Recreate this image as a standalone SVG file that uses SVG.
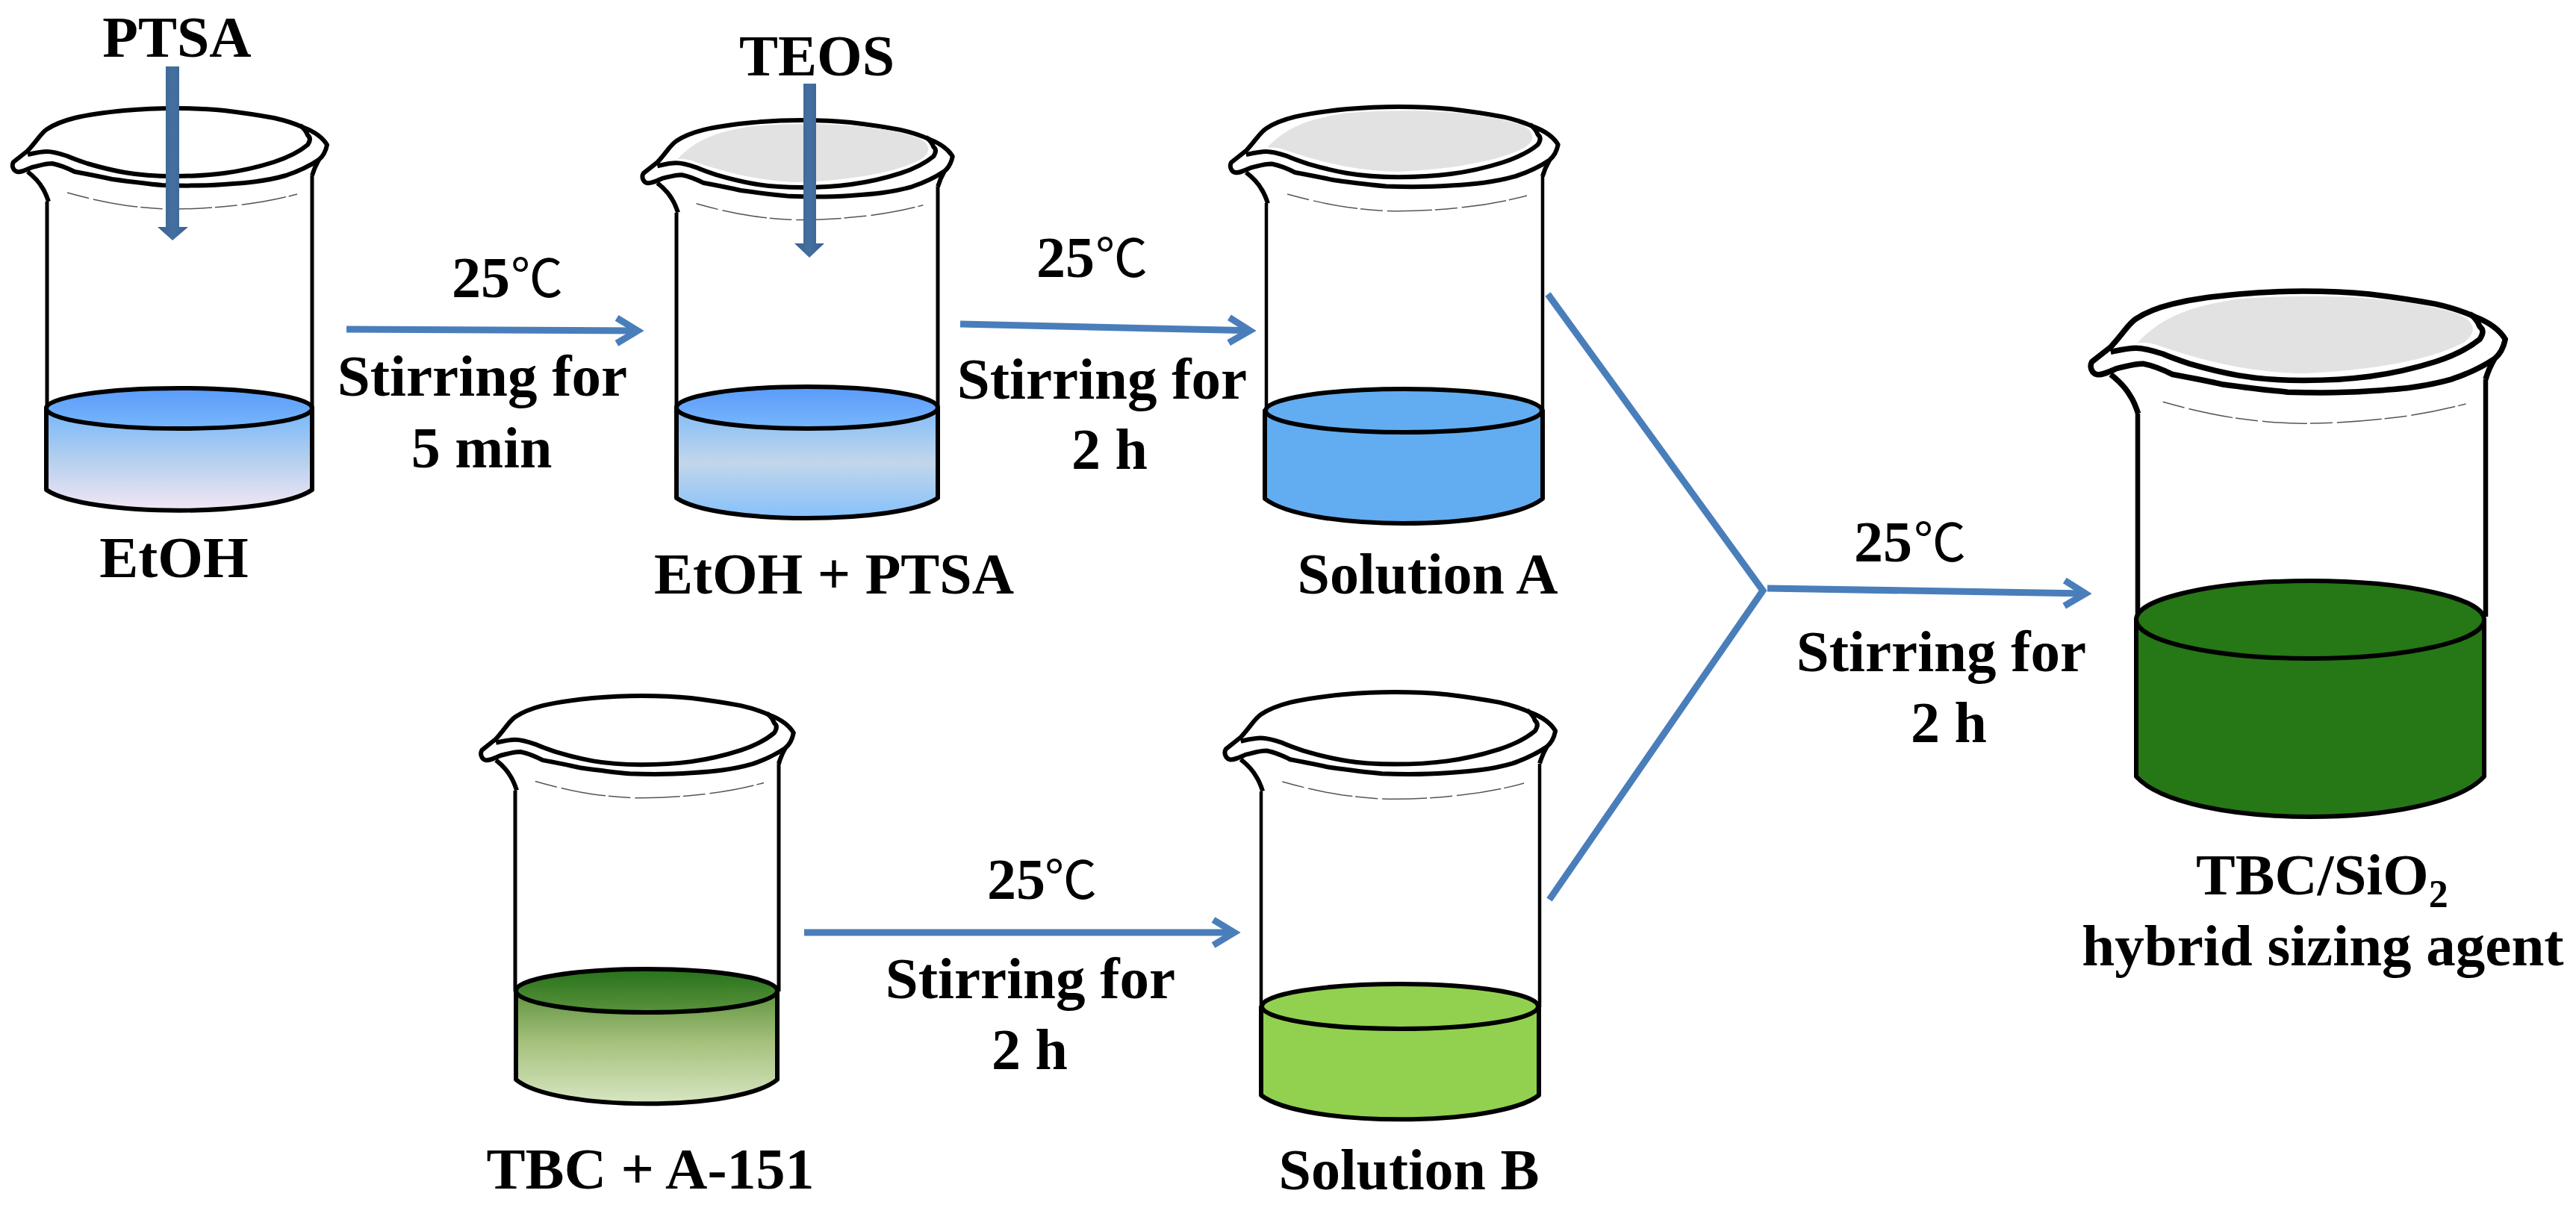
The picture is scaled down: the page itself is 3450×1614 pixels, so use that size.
<svg xmlns="http://www.w3.org/2000/svg" width="3450" height="1614" viewBox="0 0 3450 1614">
<style>
text{font-family:"Liberation Serif","Times New Roman",serif;font-weight:700;font-size:78px;fill:#000}
.c{text-anchor:middle}
.s{font-size:79px}
.deg{font-family:"Noto Sans CJK SC",sans-serif;font-weight:400;font-size:70px}
.ln{fill:none;stroke:#000;stroke-width:5;stroke-linejoin:round}
.liq{stroke:#000;stroke-width:6;stroke-linejoin:round}
.fr{fill:none;stroke:#000;stroke-linejoin:round;vector-effect:non-scaling-stroke}
.thin{fill:none;stroke:#555;stroke-width:1.5;stroke-dasharray:30 6 60 4;vector-effect:non-scaling-stroke}
.rim{fill:#fff}
.grey{fill:#e2e2e2;stroke:none}
.flow{fill:none;stroke:#4a7ebb;stroke-width:9}
use{stroke-width:6}
</style>
<defs>
<marker id="head" markerUnits="userSpaceOnUse" markerWidth="60" markerHeight="60" refX="45" refY="30" orient="auto"><path d="M17,13 L45,30 L17,47" fill="none" stroke="#4a7ebb" stroke-width="9"/></marker>
<linearGradient id="feed" x1="0" x2="1" y1="0" y2="0"><stop offset="0" stop-color="#3a6090"/><stop offset=".5" stop-color="#44709f"/><stop offset="1" stop-color="#3a6090"/></linearGradient>
<linearGradient id="t1" x1="0" x2="0" y1="0" y2="1"><stop offset="0" stop-color="#5a9bfb"/><stop offset="1" stop-color="#78b6fb"/></linearGradient>
<linearGradient id="b1" x1="0" x2="0" y1="0" y2="1"><stop offset="0" stop-color="#74b6fb"/><stop offset=".5" stop-color="#b3cfee"/><stop offset="1" stop-color="#f3e7f4"/></linearGradient>
<linearGradient id="b2" x1="0" x2="0" y1="0" y2="1"><stop offset="0" stop-color="#80bcf8"/><stop offset=".5" stop-color="#c2d6ea"/><stop offset="1" stop-color="#85c0fb"/></linearGradient>
<linearGradient id="t4" x1="0" x2="0" y1="0" y2="1"><stop offset="0" stop-color="#27731b"/><stop offset="1" stop-color="#5a923c"/></linearGradient>
<linearGradient id="b4" x1="0" x2="0" y1="0" y2="1"><stop offset="0" stop-color="#5f9440"/><stop offset=".45" stop-color="#a5c07b"/><stop offset="1" stop-color="#d8e6c3"/></linearGradient>
<path id="grey-a" class="grey" d="M64,198 C90,170 120,160 167,153 C260,146 340,152 390,168 C408,176 410,188 395,198 C360,216 300,226 233,229 C170,228 120,212 90,202 C80,198 72,197 64,198 Z"/>
<g id="frame">
<path class="fr rim" d="M18,217 L37,202 C50,188 55,178 63,173 C75,165 88,161 100,158 C125,152 146,150 167,148 C190,146 210,145 233,145 C260,145 280,146 300,148 C325,151 345,154 367,158 C385,162 396,166 407,171 C420,176 432,184 438,194 C436,204 432,210 427,214 C412,224 398,230 383,235 C355,243 330,245 300,247 C272,249 245,249 217,248 C195,246 172,243 150,240 C132,236 116,233 100,230 C88,224 80,221 70,219 C60,219 52,222 43,224 C34,228 28,231 23,230 C18,229 15,222 18,217 Z"/>
<path class="fr" d="M37,207 C46,205 54,203 63,203 C72,203 81,206 90,209 C99,213 108,216 117,219 C134,224 150,228 167,231 C190,235 210,236 233,236 C255,236 278,235 300,232 C323,229 345,224 367,217 C385,211 400,204 412,194 C416,188 416,184 412,181 C410,175 406,171 402,168"/>
<path class="fr" d="M37,230 C46,237 52,243 57,252 C61,258 63,264 65,270"/>
<path class="fr" d="M427,214 C423,221 420,228 418,235"/>
<path class="thin" d="M90,258 C115,265 140,271 167,275 C190,278 210,280 233,280 C262,280 290,278 317,275 C345,272 372,267 398,260"/>
</g>
</defs>
<rect width="3450" height="1614" fill="#fff"/>

<g id="beaker-etoh">
<use href="#frame"/>
<path class="ln" d="M63,270 V546 M418,235 V546"/>
<path class="liq" style="fill:url(#b1)" d="M62,546 V656 C115,693 365,693 418,656 V546 Z"/>
<ellipse class="liq" style="fill:url(#t1)" cx="240" cy="547" rx="178" ry="27"/>
<text class="c" x="233" y="773">EtOH</text>
</g>

<g id="beaker-etoh-ptsa">
<use href="#frame" transform="matrix(.986 0 0 .989 843.9 17.6)"/>
<use href="#grey-a" transform="matrix(.986 0 0 .989 843.9 17.6)"/>
<path class="ln" d="M906,285 V546 M1256,250 V546"/>
<path class="liq" style="fill:url(#b2)" d="M906,546 V667 C958,703 1204,703 1256,667 V546 Z"/>
<ellipse class="liq" style="fill:url(#t1)" cx="1081" cy="546" rx="175" ry="28"/>
<text class="c" x="1117" y="795">EtOH + PTSA</text>
</g>

<g id="beaker-solution-a">
<use href="#frame" transform="matrix(1.042 0 0 1.035 1630.3 -7.1)"/>
<use href="#grey-a" transform="matrix(1.042 0 0 1.035 1630.3 -7.1)"/>
<path class="ln" style="stroke-width:4.5" d="M1696,272 V550 M2066,236 V550"/>
<path class="liq" style="fill:#62adf1" d="M1694,550 V668 C1750,712 2010,712 2066,668 V550 Z"/>
<ellipse class="liq" style="fill:#62adf1" cx="1880" cy="550" rx="185" ry="29"/>
<text class="c" x="1912" y="795">Solution A</text>
</g>

<g id="beaker-tbc-a151">
<use href="#frame" transform="matrix(.994 0 0 1.013 627.4 785.1)"/>
<path class="ln" d="M690,1059 V1328 M1043,1023 V1328"/>
<path class="liq" style="fill:url(#b4)" d="M691,1328 V1446 C742,1489 990,1489 1041,1446 V1328 Z"/>
<ellipse class="liq" style="fill:url(#t4)" cx="866" cy="1327" rx="175" ry="29"/>
<text class="c" x="871" y="1592">TBC + A-151</text>
</g>

<g id="beaker-solution-b">
<use href="#frame" transform="matrix(1.051 0 0 1.061 1622.8 773.2)"/>
<path class="ln" style="stroke-width:4.5" d="M1689,1060 V1349 M2062,1023 V1349"/>
<path class="liq" style="fill:#92d14f" d="M1689,1349 V1467 C1745,1510 2005,1510 2061,1467 V1349 Z"/>
<ellipse class="liq" style="fill:#92d14f" cx="1875" cy="1348" rx="185" ry="30"/>
<text class="c" x="1887" y="1593">Solution B</text>
</g>

<g id="beaker-hybrid">
<use href="#frame" style="stroke-width:7.5" transform="matrix(1.318 0 0 1.312 2778 199.8)"/>
<use href="#grey-a" transform="matrix(1.318 0 0 1.312 2778 199.8)"/>
<path class="ln" style="stroke-width:6.5" d="M2863,554 V826 M3329,508 V826"/>
<path class="liq" style="fill:#267715" d="M2861,830 V1040 C2925,1112 3262,1112 3327,1040 V830 Z"/>
<ellipse class="liq" style="fill:#267715" cx="3094" cy="830" rx="233" ry="52"/>
<text x="2941" y="1198" style="font-size:79px">TBC/SiO<tspan dy="17" style="font-size:52px">2</tspan></text>
<text class="c" x="3111" y="1293" style="font-size:79px">hybrid sizing agent</text>
</g>

<g id="connectors">
<path fill="url(#feed)" d="M222,89 H240 V304 H252 L231,322 L211,304 H222 Z"/>
<path fill="url(#feed)" d="M1076,112 H1093 V326 H1104 L1084,345 L1064,326 H1076 Z"/>
<path class="flow" marker-end="url(#head)" d="M464,441 L854,443"/>
<path class="flow" marker-end="url(#head)" d="M1286,434 L1674,442.8"/>
<path class="flow" marker-end="url(#head)" d="M1077,1249 L1653,1249"/>
<path class="flow" d="M2073,394 L2361,791 L2075,1205"/>
<path class="flow" marker-end="url(#head)" d="M2367,788 L2793,795"/>
</g>

<g id="labels">
<text class="c" x="237" y="76">PTSA</text>
<text class="c" x="1094" y="101">TEOS</text>
<text x="605" y="398">25<tspan class="deg" x="684">℃</tspan></text>
<text class="c s" x="646" y="530">Stirring for</text>
<text class="c" x="645" y="626">5 min</text>
<text x="1388" y="371">25<tspan class="deg" x="1467">℃</tspan></text>
<text class="c s" x="1476" y="534">Stirring for</text>
<text class="c" x="1486" y="628">2 h</text>
<text x="1322" y="1204">25<tspan class="deg" x="1399">℃</tspan></text>
<text class="c s" x="1380" y="1337">Stirring for</text>
<text class="c" x="1379" y="1432">2 h</text>
<text x="2483" y="752">25<tspan class="deg" x="2563">℃</tspan></text>
<text class="c s" x="2600" y="899">Stirring for</text>
<text class="c" x="2610" y="994">2 h</text>
</g>
</svg>
